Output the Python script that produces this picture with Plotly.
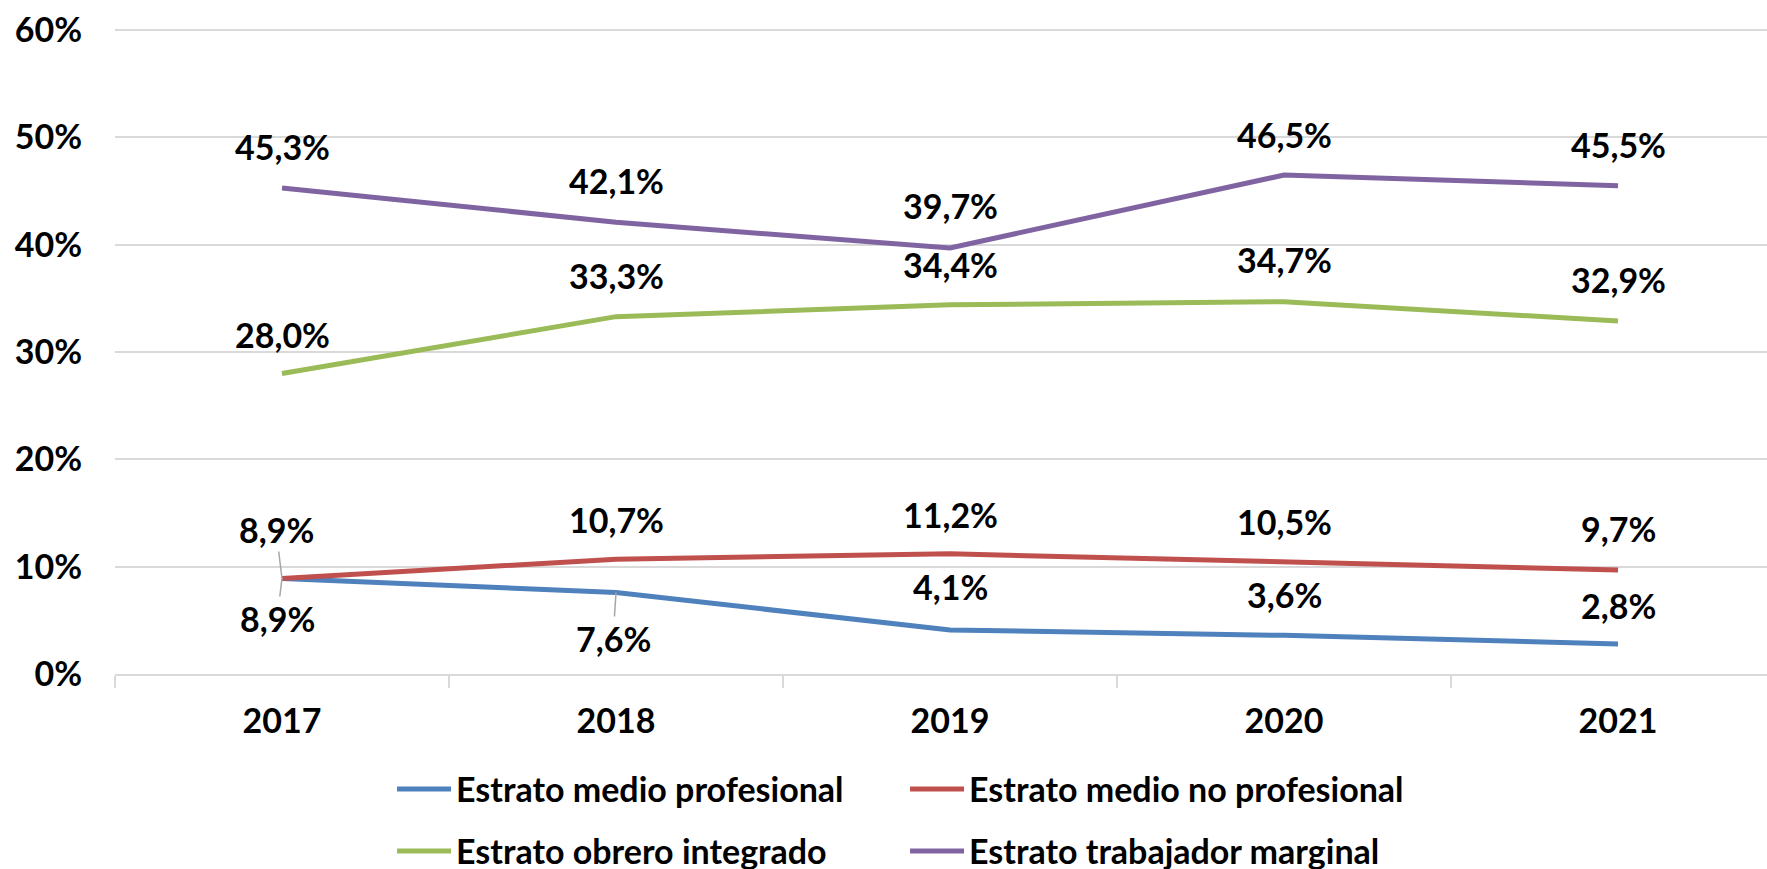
import plotly.graph_objects as go

years = [2017, 2018, 2019, 2020, 2021]
series_names = ["Estrato medio profesional", "Estrato medio no profesional",
                "Estrato obrero integrado", "Estrato trabajador marginal"]
medio_profesional = [8.9, 7.6, 4.1, 3.6, 2.8]
medio_no_profesional = [8.9, 10.7, 11.2, 10.5, 9.7]
obrero_integrado = [28.0, 33.3, 34.4, 34.7, 32.9]
trabajador_marginal = [45.3, 42.1, 39.7, 46.5, 45.5]
y_ticks = [0, 10, 20, 30, 40, 50, 60]

colors = ["#4F81BD", "#C0504D", "#9BBB59", "#8064A2"]
all_series = [medio_profesional, medio_no_profesional, obrero_integrado, trabajador_marginal]
legend_ids = ["legend", "legend", "legend2", "legend2"]

FONT = "Lato"
FS = 34
BOLD = dict(family=FONT, size=FS, color="black", weight="bold")

fig = go.Figure()
for name, vals, col, lg in zip(series_names, all_series, colors, legend_ids):
    fig.add_trace(go.Scatter(x=years, y=vals, mode="lines", name=name,
                             line=dict(color=col, width=5), legend=lg))

def fmt(v):
    return f"{v:.1f}".replace(".", ",") + "%"

# label offsets in pixels (dx, dy; negative dy = above), leader line flag
offsets = {
    0: [(-5, 40, True), (-3, 46, True), (0, -44, False), (0, -41, False), (0, -38, False)],
    1: [(-6, -49, True), (0, -40, False), (0, -39, False), (0, -40, False), (0, -41, False)],
    2: [(0, -39, False), (0, -41, False), (0, -40, False), (0, -42, False), (0, -41, False)],
    3: [(0, -41, False), (0, -42, False), (0, -42, False), (0, -41, False), (0, -41, False)],
}
annotations = []
for si, vals in enumerate(all_series):
    for i, (yr, v) in enumerate(zip(years, vals)):
        dx, dy, arrow = offsets[si][i]
        if arrow:
            annotations.append(dict(x=yr, y=v, xref="x", yref="y", text=fmt(v),
                                    showarrow=True, ax=dx, ay=dy, arrowhead=0,
                                    arrowwidth=1.5, arrowcolor="#A6A6A6", standoff=0,
                                    font=BOLD))
        else:
            annotations.append(dict(x=yr, y=v, xref="x", yref="y", text=fmt(v),
                                    showarrow=False, xshift=dx, yshift=-dy, font=BOLD))

legend_common = dict(orientation="h", xanchor="left", yanchor="middle",
                     entrywidth=444, entrywidthmode="pixels", itemwidth=54,
                     font=BOLD, bgcolor="rgba(0,0,0,0)")

fig.update_layout(
    width=1767, height=869,
    margin=dict(l=115, r=0, t=28, b=195, autoexpand=False),
    paper_bgcolor="white", plot_bgcolor="white",
    font=BOLD,
    annotations=annotations,
    legend=dict(x=0.1677, y=-0.1786, **legend_common),
    legend2=dict(x=0.1677, y=-0.2748, **legend_common),
    showlegend=True,
)
fig.update_xaxes(
    range=[2016.5, 2021.446], tickvals=years, ticktext=[str(y) for y in years],
    showgrid=False, zeroline=False, showline=True, linecolor="#D9D9D9", linewidth=2,
    ticks="", tickfont=BOLD, ticklabelstandoff=16,
    minor=dict(tickvals=[y - 0.5 for y in years] + [years[-1] + 0.5], ticks="outside",
               ticklen=12, tickcolor="#D9D9D9", tickwidth=2, showgrid=False),
)
fig.update_yaxes(
    range=[0, 60.2], tickvals=y_ticks, ticktext=[f"{t}%" for t in y_ticks],
    showgrid=True, gridcolor="#D9D9D9", gridwidth=2, zeroline=False,
    showline=False, ticks="", tickfont=BOLD, ticklabelstandoff=32,
)

fig.write_html("out.html", config={"displayModeBar": False},
               post_script="document.body.style.margin='0px';document.body.style.overflow='hidden';")
